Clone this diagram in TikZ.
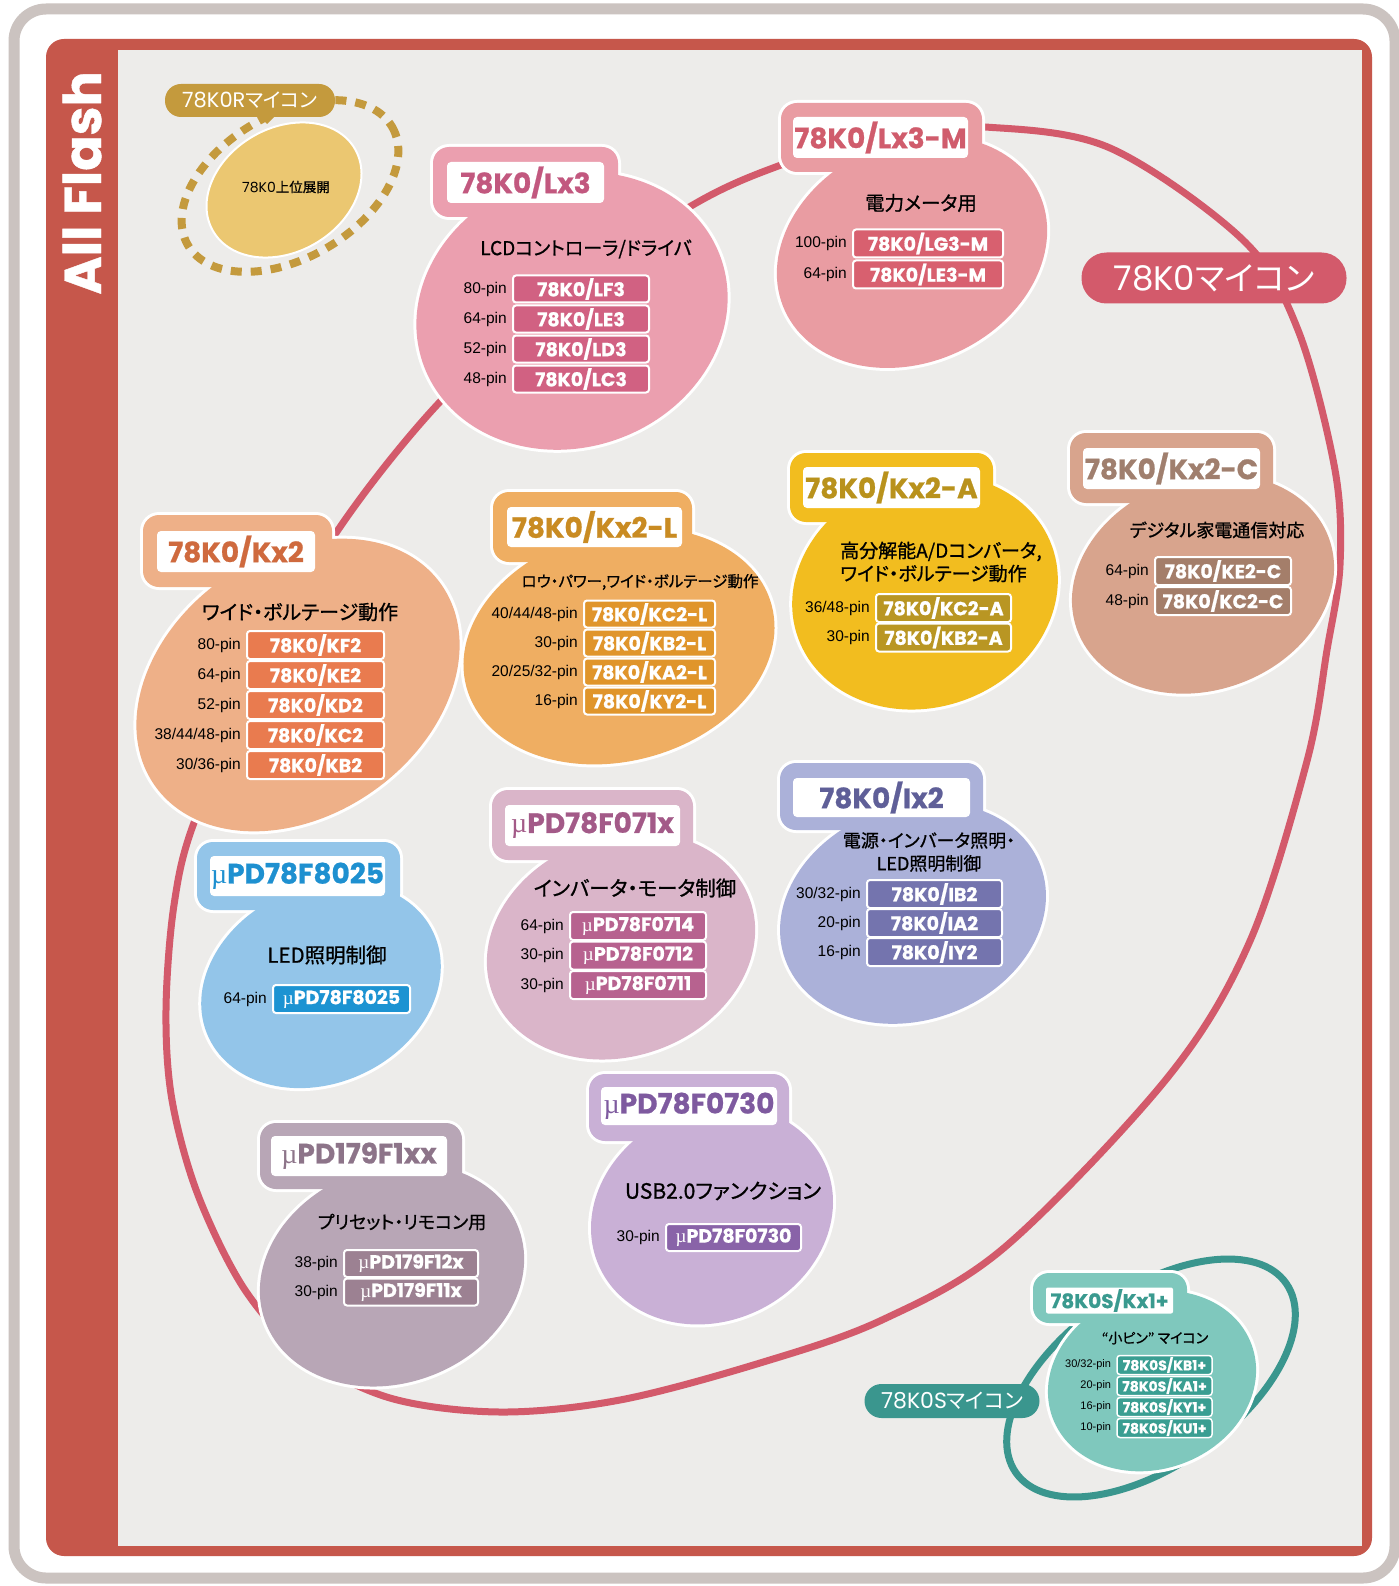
\documentclass[tikz,border=0pt]{standalone}
\usepackage{fontspec}
\setmainfont{Liberation Sans}
\newfontfamily\pop{Poppins}
\newfontfamily\popb{Poppins}[BoldFeatures={FakeBold=0.8}]
\newfontfamily\jp{Noto Sans CJK JP}[RawFeature=+palt]
\newfontfamily\jpm{Noto Sans CJK JP}[RawFeature=+palt, FakeBold=0.9]
\newfontfamily\mus{Liberation Serif}
\usetikzlibrary{calc}
\definecolor{framegray}{HTML}{CBC3C0}
\definecolor{framered}{HTML}{C6574B}
\definecolor{panel}{HTML}{EDECEA}
\definecolor{loopc}{HTML}{D35A6B}
\definecolor{gold}{HTML}{C49A3D}
\definecolor{goldfill}{HTML}{EBC771}
\definecolor{tealc}{HTML}{3A968E}
\definecolor{tealfill}{HTML}{7FC8BD}
\definecolor{tealt}{HTML}{3A9A8F}
\definecolor{teali}{HTML}{3A9E92}
\definecolor{lxf}{HTML}{EB9FAF}\definecolor{lxt}{HTML}{C2587F}\definecolor{lxi}{HTML}{D16182}
\definecolor{lmf}{HTML}{E99CA2}\definecolor{lmt}{HTML}{D05C6C}\definecolor{lmi}{HTML}{D8606F}
\definecolor{kcf}{HTML}{D8A48D}\definecolor{kct}{HTML}{A07F6E}\definecolor{kci}{HTML}{A47E6A}
\definecolor{kxf}{HTML}{EEB088}\definecolor{kxt}{HTML}{CF6A3E}\definecolor{kxi}{HTML}{E97B4F}
\definecolor{klf}{HTML}{EFAE62}\definecolor{klt}{HTML}{C98B22}\definecolor{kli}{HTML}{E0952B}
\definecolor{kaf}{HTML}{F2BD1F}\definecolor{kat}{HTML}{B9921C}\definecolor{kai}{HTML}{B99623}
\definecolor{blf}{HTML}{93C5E9}\definecolor{blt}{HTML}{1E90D0}\definecolor{bli}{HTML}{1C93D2}
\definecolor{mvf}{HTML}{DAB5C9}\definecolor{mvt}{HTML}{A35A88}\definecolor{mvi}{HTML}{B7628F}
\definecolor{ixf}{HTML}{ABB1D9}\definecolor{ixt}{HTML}{5F5F98}\definecolor{ixi}{HTML}{7474AE}
\definecolor{pff}{HTML}{B8A6B6}\definecolor{pft}{HTML}{8D7489}\definecolor{pfi}{HTML}{9C8192}
\definecolor{usf}{HTML}{C9B0D6}\definecolor{ust}{HTML}{7E5A9F}\definecolor{usi}{HTML}{8963A8}
\tikzset{
 titlebox/.style={fill=white, rounded corners=4, inner sep=0, font=\popb\bfseries\fontsize{28}{28}\selectfont},
 itembox/.style={draw=white, line width=2, rounded corners=3, inner sep=0, text=white, font=\popb\bfseries\fontsize{19}{19}\selectfont},
 pinlbl/.style={inner sep=0, anchor=east, font=\fontsize{15.5}{15.5}\selectfont},
 sub/.style={inner sep=0, align=center, font=\jpm\fontsize{19}{23}\selectfont},
}
\newcommand\subsz[1]{\jpm\fontsize{#1}{23}\selectfont}
\newcommand\mic{{\mus\mdseries µ}}
\newcommand\blob[7]{%
 \pgfmathsetmacro\ra{#3+3}\pgfmathsetmacro\rb{#4+3}%
 \fill[white, rounded corners=19] ($#6+(-3,-3)$) rectangle ($#7+(3,3)$);
 \fill[white, rotate around={#5:#2}] #2 ellipse [x radius=\ra, y radius=\rb];
 \fill[#1, rounded corners=16] #6 rectangle #7;
 \fill[#1, rotate around={#5:#2}] #2 ellipse [x radius=#3, y radius=#4];
}
\newcommand\ritem[8]{%
 \node[itembox, fill=#4, minimum width=#5, minimum height=#6] (#1) at (#2,#3) {#7};
 \node[pinlbl] (#1-pin) at ([xshift=-5pt]#1.west) {#8};
}
\begin{document}
\begin{tikzpicture}[x=1pt,y=-1pt]
\useasboundingbox (0,0) rectangle (1398,1586);
\fill[white] (0,0) rectangle (1398,1586);
\draw[framegray, line width=11, rounded corners=32] (14,9) rectangle (1395,1578);
\fill[framered, rounded corners=18] (46,39) rectangle (1372,1556);
\fill[panel] (118,50) rectangle (1362,1546);
\node[rotate=90, text=white, inner sep=0, font=\popb\bfseries\fontsize{52}{52}\selectfont] (allflash) at (82,183) {All Flash};

% big 78K0 loop
\draw[loopc, line width=7] plot[smooth cycle, tension=0.55] coordinates {
 (334,536) (437,405) (560,292) (698,202) (789,162) (885,132) (985,127) (1110,148)
 (1243,240) (1298,330) (1335,470) (1340,565) (1327,650) (1307,761) (1250,941)
 (1168,1077) (1005,1247) (882,1320) (760,1363) (620,1400) (500,1412) (390,1398)
 (305,1355) (245,1290) (198,1195) (172,1100) (166,1010) (174,905) (195,820) (262,670)};
\node[fill=loopc, rounded corners=25, minimum width=265, minimum height=51, inner sep=0, text=white] (k0lab) at (1214,278)
 {{\pop\fontsize{34}{34}\selectfont 78K0}{\jp\fontsize{33}{33}\selectfont マイコン}};

% 78K0R
\draw[gold, line width=8, dash pattern=on 11pt off 9pt, rotate around={30:(290,186)}] (290,186) ellipse [x radius=118, y radius=72];
\draw[white, line width=2, fill=goldfill, rotate around={30:(284,190)}] (284,190) ellipse [x radius=82, y radius=62];
\node[inner sep=0] (k0up) at (286,187) {{\pop\fontsize{14}{14}\selectfont 78K0}{\jpm\fontsize{13.5}{14}\selectfont 上位展開}};
\fill[gold] (259,115) -- (276,115) -- (267,124) -- cycle;
\node[fill=gold, rounded corners=16, minimum width=170, minimum height=33, inner sep=0, text=white] (k0r) at (250,100.5)
 {{\pop\fontsize{21}{21}\selectfont 78K0R}{\jp\fontsize{20}{20}\selectfont マイコン}};

% Lx3
\blob{lxf}{(572,311)}{158}{136}{20}{(433,147)}{(618,217)}
\node[titlebox, text=lxt, minimum width=157, minimum height=41] (lx3) at (525.5,182.5) {78K0/Lx3};
\node[sub, font=\subsz{19}] (lx3s) at (586,249) {LCDコントローラ/ドライバ};
\ritem{lf3}{581}{289}{lxi}{136}{27}{78K0/LF3}{80-pin}
\ritem{le3}{581}{319}{lxi}{136}{27}{78K0/LE3}{64-pin}
\ritem{ld3}{581}{349}{lxi}{136}{27}{78K0/LD3}{52-pin}
\ritem{lc3}{581}{379}{lxi}{136}{27}{78K0/LC3}{48-pin}

% Lx3-M
\blob{lmf}{(912,252)}{140}{110}{25}{(781,103)}{(982,172)}
\node[titlebox, text=lmt, minimum width=175, minimum height=41] (lx3m) at (880.5,137.5) {78K0/Lx3-M};
\node[sub, font=\subsz{19.5}] (lx3ms) at (921,203) {電力メータ用};
\ritem{lg3m}{928}{243.5}{lmi}{150}{28}{78K0/LG3-M}{100-pin}
\ritem{le3m}{928}{274.5}{lmi}{150}{28}{78K0/LE3-M}{64-pin}

% Kx2-C
\blob{kcf}{(1203,584)}{134}{106}{20}{(1070,433)}{(1273,503)}
\node[titlebox, text=kct, minimum width=177, minimum height=41] (kx2c) at (1171.5,468.5) {78K0/Kx2-C};
\node[sub, font=\subsz{18}] (kx2cs) at (1217,530) {デジタル家電通信対応};
\ritem{ke2c}{1223}{571}{kci}{136}{28}{78K0/KE2-C}{64-pin}
\ritem{kc2c}{1223}{601}{kci}{136}{28}{78K0/KC2-C}{48-pin}

% Kx2
\blob{kxf}{(298,685)}{175}{130}{35}{(143,515)}{(332,587)}
\node[titlebox, text=kxt, minimum width=158, minimum height=41] (kx2) at (236,551.5) {78K0/Kx2};
\node[sub, font=\subsz{20}] (kx2s) at (300,612) {ワイド・ボルテージ動作};
\ritem{kf2}{315.5}{645}{kxi}{137}{28}{78K0/KF2}{80-pin}
\ritem{ke2}{315.5}{675}{kxi}{137}{28}{78K0/KE2}{64-pin}
\ritem{kd2}{315.5}{705}{kxi}{137}{28}{78K0/KD2}{52-pin}
\ritem{kc2}{315.5}{735}{kxi}{137}{28}{78K0/KC2}{38/44/48-pin}
\ritem{kb2}{315.5}{765}{kxi}{137}{28}{78K0/KB2}{30/36-pin}

% Kx2-L
\blob{klf}{(619,646)}{158}{115}{15}{(493,492)}{(692,562)}
\node[titlebox, text=klt, minimum width=175, minimum height=40] (kx2l) at (594.5,527) {78K0/Kx2-L};
\node[sub, font=\subsz{15.5}] (kx2ls) at (640,582) {ロウ・パワー,ワイド・ボルテージ動作};
\ritem{kc2l}{649.5}{614}{kli}{131}{27}{78K0/KC2-L}{40/44/48-pin}
\ritem{kb2l}{649.5}{643}{kli}{131}{27}{78K0/KB2-L}{30-pin}
\ritem{ka2l}{649.5}{672}{kli}{131}{27}{78K0/KA2-L}{20/25/32-pin}
\ritem{ky2l}{649.5}{701}{kli}{131}{27}{78K0/KY2-L}{16-pin}

% Kx2-A
\blob{kaf}{(925,592)}{135}{115}{20}{(790,453)}{(993,522)}
\node[titlebox, text=kat, minimum width=177, minimum height=41] (kx2a) at (891.5,487.5) {78K0/Kx2-A};
\node[sub, align=left, anchor=west, font=\subsz{19}] (kx2as) at (840,562) {高分解能A/Dコンバータ,\\ワイド・ボルテージ動作};
\ritem{kc2a}{943.5}{608}{kai}{135}{28}{78K0/KC2-A}{36/48-pin}
\ritem{kb2a}{943.5}{637.5}{kai}{135}{28}{78K0/KB2-A}{30-pin}

% uPD78F8025
\blob{blf}{(321,985)}{124}{98}{25}{(197,842)}{(400,910)}
\node[titlebox, text=blt, minimum width=175, minimum height=40] (f8025) at (297.5,876) {\mic PD78F8025};
\node[sub, font=\subsz{20.5}] (f8025s) at (327,955) {LED照明制御};
\ritem{f8025i}{341.5}{999}{bli}{137}{28}{\mic PD78F8025}{64-pin}

% uPD78F071x
\blob{mvf}{(621,946)}{137}{110}{20}{(492,790)}{(693,860)}
\node[titlebox, text=mvt, minimum width=175, minimum height=41] (f071x) at (592.5,825.5) {\mic PD78F071x};
\node[sub, font=\subsz{20.5}] (f071xs) at (635,888) {インバータ・モータ制御};
\ritem{f0714}{638}{926}{mvi}{136}{28}{\mic PD78F0714}{64-pin}
\ritem{f0712}{638}{955.5}{mvi}{136}{28}{\mic PD78F0712}{30-pin}
\ritem{f0711}{638}{985}{mvi}{136}{28}{\mic PD78F0711}{30-pin}

% Ix2
\blob{ixf}{(913,913)}{136}{107}{20}{(780,763)}{(983,830)}
\node[titlebox, text=ixt, minimum width=177, minimum height=39] (ix2) at (881.5,797.5) {78K0/Ix2};
\node[sub, font=\subsz{18}] (ix2s) at (929,852) {電源・インバータ照明・\\LED照明制御};
\ritem{ib2}{934.5}{894}{ixi}{135}{28}{78K0/IB2}{30/32-pin}
\ritem{ia2}{934.5}{923}{ixi}{135}{28}{78K0/IA2}{20-pin}
\ritem{iy2}{934.5}{952}{ixi}{135}{28}{78K0/IY2}{16-pin}

% uPD179F1xx
\blob{pff}{(392,1275)}{135}{108}{20}{(260,1123)}{(462,1189)}
\node[titlebox, text=pft, minimum width=176, minimum height=40] (f179) at (359,1156) {\mic PD179F1xx};
\node[sub, font=\subsz{18}] (f179s) at (402,1222) {プリセット・リモコン用};
\ritem{f12x}{411}{1263.5}{pfi}{134}{27}{\mic PD179F12x}{38-pin}
\ritem{f11x}{411}{1292}{pfi}{134}{27}{\mic PD179F11x}{30-pin}

% uPD78F0730
\blob{usf}{(712,1215)}{124}{106}{25}{(589,1074)}{(789,1141)}
\node[titlebox, text=ust, minimum width=176, minimum height=38] (f0730) at (689,1106) {\mic PD78F0730};
\node[sub, font=\subsz{21}] (f0730s) at (723,1191) {USB2.0ファンクション};
\ritem{f0730i}{733.5}{1237.5}{usi}{135}{27}{\mic PD78F0730}{30-pin}

% 78K0S
\draw[tealc, line width=7, rotate around={35:(1151,1378)}] (1151,1378) ellipse [x radius=165, y radius=88];
\node[fill=tealc, rounded corners=17, minimum width=175, minimum height=34, inner sep=0, text=white] (k0s) at (952,1401)
 {{\pop\fontsize{22}{22}\selectfont 78K0S}{\jp\fontsize{21}{21}\selectfont マイコン}};
\blob{tealfill}{(1152,1381)}{106}{88}{20}{(1033,1273)}{(1187,1323)}
\node[titlebox, text=tealt, minimum width=127, minimum height=26, font=\popb\bfseries\fontsize{20}{20}\selectfont, rounded corners=2] (kx1) at (1109.5,1300.5) {78K0S/Kx1+};
\node[sub, font=\subsz{14}] (kx1s) at (1155,1338) {“小ピン” マイコン};
\tikzset{itembox/.append style={font=\popb\bfseries\fontsize{14}{14}\selectfont, line width=1.5},
 pinlbl/.append style={font=\fontsize{11}{11}\selectfont}}
\ritem{kb1}{1164.5}{1365}{teali}{95}{19}{78K0S/KB1+}{30/32-pin}
\ritem{ka1}{1164.5}{1386}{teali}{95}{19}{78K0S/KA1+}{20-pin}
\ritem{ky1}{1164.5}{1407}{teali}{95}{19}{78K0S/KY1+}{16-pin}
\ritem{ku1}{1164.5}{1428}{teali}{95}{19}{78K0S/KU1+}{10-pin}
\end{tikzpicture}
\end{document}
